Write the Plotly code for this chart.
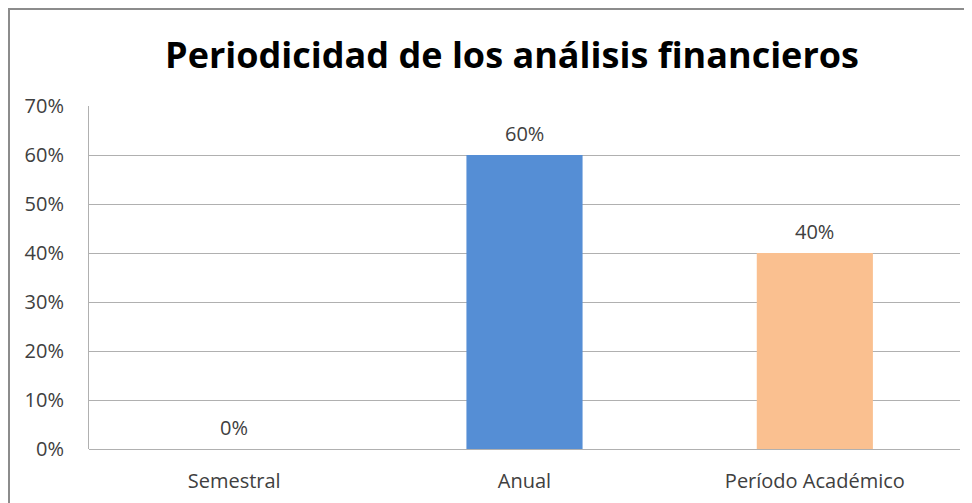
import plotly.graph_objects as go

categories = ["Semestral", "Anual", "Período Académico"]
values = [0.0, 0.60, 0.40]
colors = ["#558ED5", "#558ED5", "#FAC090"]
y_ticks = [0, 0.1, 0.2, 0.3, 0.4, 0.5, 0.6, 0.7]
title = "Periodicidad de los análisis financieros"

# page body has an 8px margin, so the figure is sized/offset accordingly
W, H = 964, 495
L, R, T, B = 81, 12, 98, 54
pw, ph = W - L - R, H - T - B

fig = go.Figure(go.Bar(
    x=categories, y=values, marker=dict(color=colors, line=dict(width=0)),
    width=0.4, hoverinfo="x+y",
))

annotations = [
    dict(x=c, y=v, xref="x", yref="y", text=f"{v:.0%}", showarrow=False,
         yanchor="middle", yshift=22,
         font=dict(family="Open Sans", size=20, color="#404040"))
    for c, v in zip(categories, values)
]

fig.update_layout(
    width=W, height=H, margin=dict(l=L, r=R, t=T, b=B, autoexpand=False),
    paper_bgcolor="white", plot_bgcolor="white", showlegend=False,
    title=dict(text="<b>" + title + "</b>", x=(512 - 8) / W, xanchor="center",
               xref="container", y=1 - 47 / H, yanchor="middle",
               yref="container",
               font=dict(family="Open Sans", size=36, color="#000000")),
    xaxis=dict(showgrid=False, showline=False, zeroline=False, ticks="",
               automargin=False,
               tickfont=dict(family="Open Sans", size=20, color="#404040"),
               ticklabelstandoff=18),
    yaxis=dict(range=[0, 0.7], tickvals=y_ticks, tickformat=".0%",
               automargin=False,
               showgrid=True, gridcolor="#B0B0B0", gridwidth=1,
               showline=True, linecolor="#B0B0B0", linewidth=1,
               zeroline=True, zerolinecolor="#B0B0B0", zerolinewidth=1,
               ticks="", ticklabelstandoff=20,
               tickfont=dict(family="Open Sans", size=20, color="#404040")),
    annotations=annotations,
    shapes=[dict(type="rect", xref="paper", yref="paper",
                 x0=(1 - L) / pw, x1=(W + 20 - L) / pw,
                 y0=-(B + 20) / ph, y1=(H - B - 1) / ph,
                 line=dict(color="#8C8C8C", width=2), layer="below")],
)

fig.write_html("out.html")
